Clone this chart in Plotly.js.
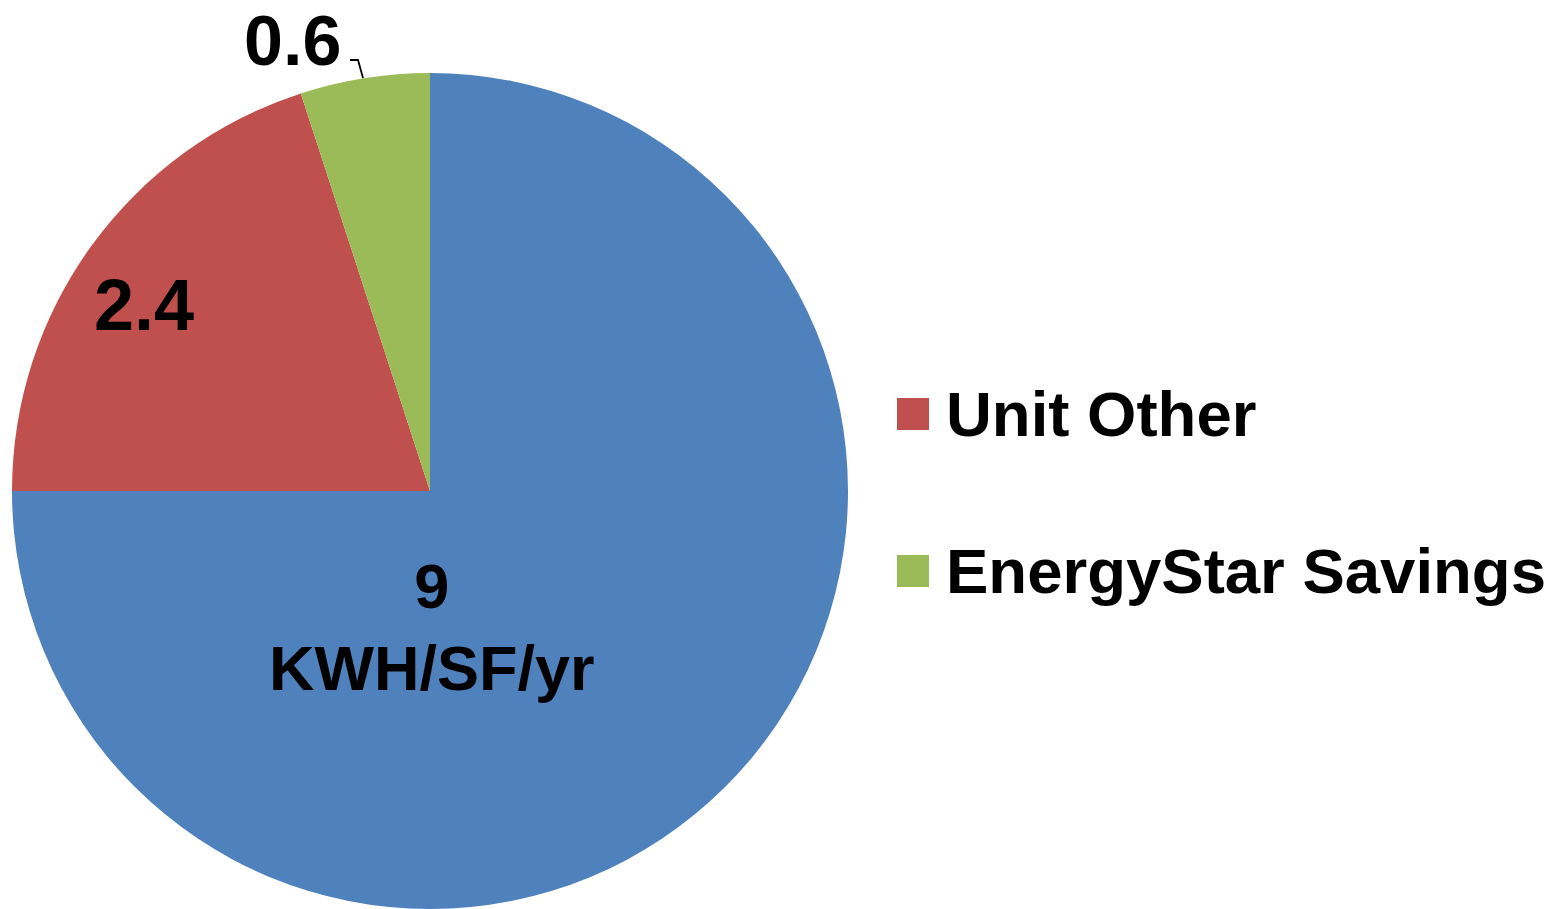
<!DOCTYPE html>
<html>
<head>
<meta charset="utf-8">
<script src="https://cdn.plot.ly/plotly-3.0.1.min.js"></script>
<style>html,body{margin:0;padding:0;background:#fff;}#chart{width:1561px;height:909px;}</style>
</head>
<body>
<div id="chart"></div>
<script>
// Data
const labels = ["Unit Baseline", "Unit Other", "EnergyStar Savings"];
const values = [9, 2.4, 0.6];
const colors = ["#4F81BD", "#C0504D", "#9BBB59"];
const unitText = "KWH/SF/yr";
const legendIdx = [1, 2];

const W = 1561, H = 909;
const px = x => x / W;
const py = y => 1 - y / H;

const trace = {
  type: "pie",
  labels: labels,
  values: values,
  marker: {colors: colors, line: {width: 0}},
  sort: false,
  direction: "clockwise",
  rotation: 0,
  textinfo: "none",
  hoverinfo: "label+value",
  showlegend: false,
  domain: {x: [px(12), px(848)], y: [0, 836 / H]}
};

const lblFont = {family: "Liberation Sans, Arial, sans-serif", size: 72, color: "#000", weight: "bold"};
const annotations = [
  {text: String(values[0]) + "<br>" + unitText, x: px(432), y: py(627), xref: "paper", yref: "paper",
   xanchor: "center", yanchor: "middle", showarrow: false,
   font: Object.assign({}, lblFont, {size: 63})},
  {text: String(values[1]), x: px(144), y: py(305), xref: "paper", yref: "paper",
   xanchor: "center", yanchor: "middle", showarrow: false, font: lblFont},
  {text: String(values[2]), x: px(292), y: py(0), xref: "paper", yref: "paper",
   xanchor: "center", yanchor: "top", showarrow: false, font: Object.assign({}, lblFont, {size: 70})}
];

const shapes = [
  {type: "path", xref: "paper", yref: "paper",
   path: `M ${px(350)},${py(60)} L ${px(358)},${py(60)} L ${px(363)},${py(78)}`,
   line: {color: "#000", width: 1.8}}
];

const legendY = [414, 571];
legendIdx.forEach((idx, k) => {
  const cy = legendY[k];
  shapes.push({type: "rect", xref: "paper", yref: "paper",
    x0: px(897), x1: px(929), y0: py(cy + 16), y1: py(cy - 16),
    fillcolor: colors[idx], line: {width: 0}});
  annotations.push({text: labels[idx], x: px(944), y: py(cy), xref: "paper", yref: "paper",
    xanchor: "left", yanchor: "middle", showarrow: false,
    font: {family: "Liberation Sans, Arial, sans-serif", size: 63.5, color: "#000", weight: "bold"}});
});

const layout = {
  width: W, height: H,
  margin: {l: 0, r: 0, t: 0, b: 0},
  paper_bgcolor: "#fff",
  showlegend: false,
  annotations: annotations,
  shapes: shapes
};

Plotly.newPlot("chart", [trace], layout, {displayModeBar: false, staticPlot: true});
</script>
</body>
</html>
